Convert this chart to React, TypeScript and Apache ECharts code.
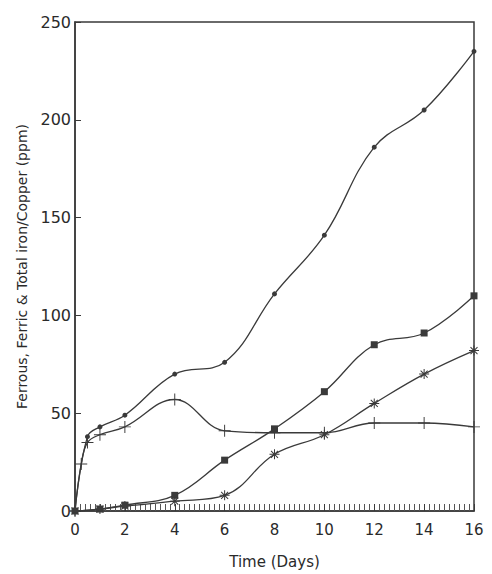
import React, { useEffect, useRef } from "react";
import * as echarts from "echarts";

const xTicks = [0, 2, 4, 6, 8, 10, 12, 14, 16];
const yTicks = [0, 50, 100, 150, 200, 250];

const totalDays = [0, 0.5, 1, 2, 4, 6, 8, 10, 12, 14, 16];
const totalIron = [0, 38, 43, 49, 70, 76, 111, 141, 186, 205, 235];

const ferrousDays = [0, 0.25, 0.5, 1, 2, 4, 6, 8, 10, 12, 14, 16];
const ferrous = [0, 24, 35, 39, 43, 57, 41, 40, 40, 45, 45, 43];

const ferricDays = [0, 1, 2, 4, 6, 8, 10, 12, 14, 16];
const ferric = [0, 1, 3, 8, 26, 42, 61, 85, 91, 110];

const copperDays = [0, 1, 2, 4, 6, 8, 10, 12, 14, 16];
const copper = [0, 1, 2.5, 5, 8, 29, 39, 55, 70, 82];

const PLUS =
  "path://M-0.8,-10 L0.8,-10 L0.8,-0.8 L10,-0.8 L10,0.8 L0.8,0.8 L0.8,10 L-0.8,10 L-0.8,0.8 L-10,0.8 L-10,-0.8 L-0.8,-0.8 Z";
const STAR =
  "path://M-1,-10 L1,-10 L1,10 L-1,10 Z M-10,-1 L10,-1 L10,1 L-10,1 Z M-6.3,-7.7 L7.7,6.3 L6.3,7.7 L-7.7,-6.3 Z M-7.7,6.3 L6.3,-7.7 L7.7,-6.3 L-6.3,7.7 Z";

const pair = (xs: number[], ys: number[]) => xs.map((x, i) => [x, ys[i]]);

const INK = "#3a3a3a";
const TEXT = "#2a2a2a";
const FONT = "DejaVu Sans";

export default function App() {
  const ref = useRef<HTMLDivElement>(null);
  useEffect(() => {
    if (!ref.current) return;
    const chart = echarts.init(ref.current, null, { renderer: "svg" });
    const lineBase = {
      type: "line",
      smooth: 0.4,
      showSymbol: true,
      lineStyle: { color: INK, width: 1.3 },
      itemStyle: { color: INK },
      z: 3,
    };
    chart.setOption({
      animation: false,
      backgroundColor: "#ffffff",
      grid: {
        left: 75,
        right: 18,
        top: 22,
        bottom: 61,
        show: true,
        borderColor: INK,
        borderWidth: 1.5,
      },
      xAxis: {
        type: "value",
        min: xTicks[0],
        max: xTicks[xTicks.length - 1],
        interval: 2,
        name: "Time (Days)",
        nameLocation: "middle",
        nameGap: 43,
        nameTextStyle: { fontFamily: FONT, fontSize: 15, color: TEXT },
        axisLine: { show: true, lineStyle: { color: INK, width: 1.5 } },
        axisTick: { show: true, inside: true, length: 7, lineStyle: { color: INK } },
        minorTick: { show: true, splitNumber: 10, length: 7, lineStyle: { color: "#555", width: 1 } },
        splitLine: { show: false },
        minorSplitLine: { show: false },
        axisLabel: {
          margin: 11,
          fontFamily: FONT,
          fontSize: 15,
          color: TEXT,
          formatter: (v: number) => (xTicks.includes(v) ? String(v) : ""),
        },
      },
      yAxis: {
        type: "value",
        min: yTicks[0],
        max: yTicks[yTicks.length - 1],
        interval: 50,
        name: "Ferrous, Ferric & Total iron/Copper (ppm)",
        nameLocation: "middle",
        nameGap: 46,
        nameTextStyle: { fontFamily: FONT, fontSize: 14, color: TEXT },
        axisLine: { show: true, lineStyle: { color: INK, width: 1.5 } },
        axisTick: { show: true, inside: true, length: 6, lineStyle: { color: INK } },
        splitLine: { show: false },
        axisLabel: {
          margin: 4,
          fontFamily: FONT,
          fontSize: 16,
          color: TEXT,
          formatter: (v: number) => (yTicks.includes(v) ? String(v) : ""),
        },
      },
      series: [
        {
          ...lineBase,
          name: "Total iron",
          symbol: "circle",
          symbolSize: 5,
          data: pair(totalDays, totalIron),
        },
        {
          ...lineBase,
          name: "Ferrous",
          symbol: PLUS,
          symbolSize: 12,
          data: pair(ferrousDays, ferrous),
        },
        {
          ...lineBase,
          name: "Ferric",
          symbol: "rect",
          symbolSize: 7,
          data: pair(ferricDays, ferric),
        },
        {
          ...lineBase,
          name: "Copper",
          symbol: STAR,
          symbolSize: 10,
          data: pair(copperDays, copper),
        },
      ],
    });
    return () => chart.dispose();
  }, []);
  return (
    <div
      ref={ref}
      style={{ position: "fixed", left: 0, top: 0, width: 492, height: 574, background: "#fff" }}
    />
  );
}
